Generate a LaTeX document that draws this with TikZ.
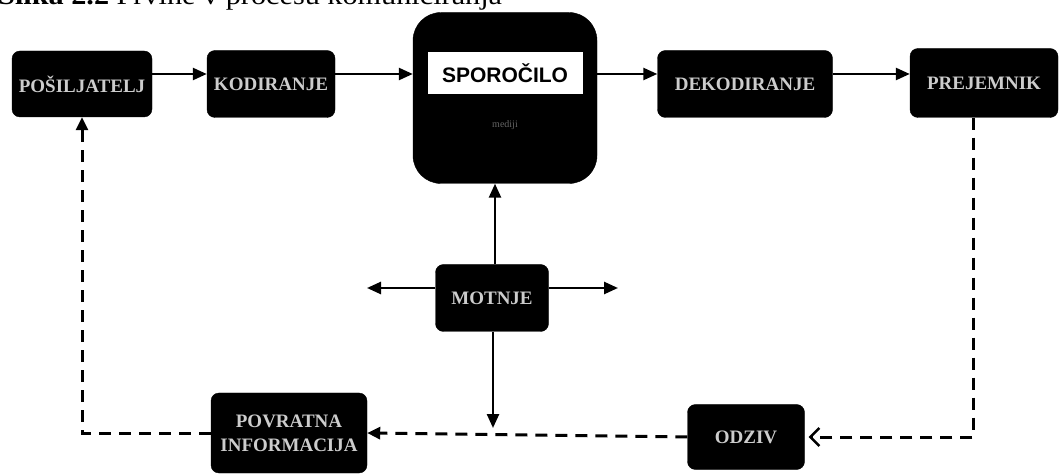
\documentclass[tikz,border=0pt]{standalone}
\usepackage{fontspec}
\usepackage{graphicx}
\setmainfont{Liberation Serif}
\newfontfamily\sporfont{Liberation Sans}
\usetikzlibrary{arrows.meta}
\begin{document}
\begin{tikzpicture}[x=1pt,y=1pt,
  blk/.style={draw=black, fill=black, rounded corners=8pt, inner sep=0pt,
    text=white!80!black, font=\bfseries\fontsize{19}{24}\selectfont, align=center},
  sol/.style={line width=2.5pt, -{Triangle[length=14pt,width=12pt]}},
  dsh/.style={line width=3pt, dash pattern=on 12pt off 8pt},
  dtip/.style={-{Triangle[length=13pt,width=12pt]}},
  otip/.style={-{Straight Barb[length=9pt,width=18pt,line width=2.5pt]}},
]
\useasboundingbox (0,0) rectangle (1060,474);
\fill[white] (0,0) rectangle (1060,474);
\node[anchor=base west, inner sep=0pt, font=\fontsize{27}{30}\selectfont] (title) at (-2,469)
  {\scalebox{1.12}[1]{\textbf{Slika 2.2} Prvine v procesu komuniciranja}};

% boxes
\node[blk, minimum width=140, minimum height=66] (pos) at (82,390) {POŠILJATELJ};
\node[blk, minimum width=128, minimum height=67] (kod) at (271,390) {KODIRANJE};
\node[blk, rounded corners=28pt, minimum width=184, minimum height=171] (spor) at (505,376) {};
\node[fill=white, inner sep=0pt, minimum width=155, minimum height=42,
  font=\sporfont\bfseries\fontsize{21}{24}\selectfont] (sporlab) at (505,401) {SPOROČILO};
\node[inner sep=0pt, text=black!60!white, font=\fontsize{10}{12}\selectfont] (medij) at (505,349) {mediji};
\node[blk, minimum width=175, minimum height=67] (dek) at (745,390) {DEKODIRANJE};
\node[blk, minimum width=148, minimum height=69] (prej) at (984,391) {PREJEMNIK};
\node[blk, minimum width=113, minimum height=67] (mot) at (492,176) {MOTNJE};
\node[blk, minimum width=156, minimum height=80] (pov) at (289,41) {POVRATNA\\INFORMACIJA};
\node[blk, minimum width=117, minimum height=65] (odz) at (746,37) {ODZIV};

% helper coordinates
\coordinate (ya) at (0,400);
\coordinate (yb) at (0,186);
\coordinate (nl) at (367,186);
\coordinate (nr) at (618,186);
\coordinate (nd) at (493,46);
\coordinate (xr) at (973,0);

% solid arrows
\draw[sol] (pos.east |- ya) -- (kod.west |- ya);
\draw[sol] (kod.east |- ya) -- (spor.west |- ya);
\draw[sol] (spor.east |- ya) -- (dek.west |- ya);
\draw[sol] (dek.east |- ya) -- (prej.west |- ya);
\draw[sol] (mot.west |- yb) -- (nl);
\draw[sol] (mot.east |- yb) -- (nr);
\draw[sol] ([xshift=3pt]mot.north) -- ([xshift=3pt]mot.north |- spor.south);
\draw[sol] ([xshift=1pt]mot.south) -- (nd);

% dashed feedback loop
\draw[dsh, otip, shorten >=4pt] (prej.south -| xr) |- (odz.east);
\draw[dsh, dtip] (odz.west) -- (pov.east);
\draw[dsh, dtip] (pov.west) -| (pos.south);
\end{tikzpicture}
\end{document}
